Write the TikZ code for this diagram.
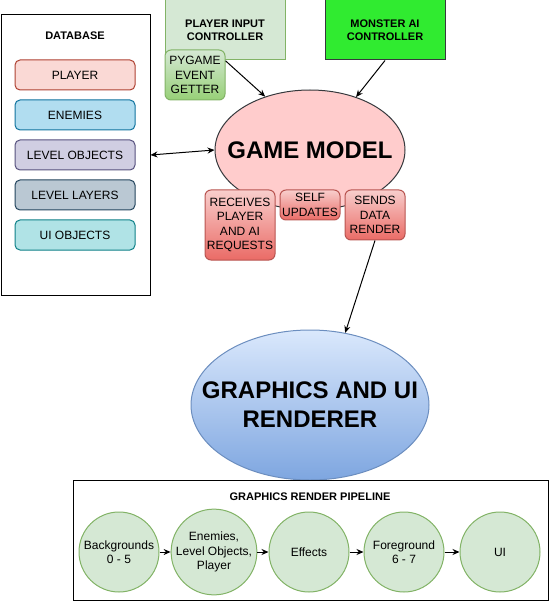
\documentclass[tikz,border=0pt]{standalone}
\usepackage{fontspec}
\setmainfont{Liberation Sans}
\usetikzlibrary{arrows.meta, positioning, shapes.geometric}
\definecolor{playerFill}{HTML}{FAD9D5}
\definecolor{playerLine}{HTML}{AE4132}
\definecolor{enemyFill}{HTML}{B1DDF0}
\definecolor{enemyLine}{HTML}{10739E}
\definecolor{objFill}{HTML}{D0CEE2}
\definecolor{objLine}{HTML}{56517E}
\definecolor{layerFill}{HTML}{BAC8D3}
\definecolor{layerLine}{HTML}{23445D}
\definecolor{uiFill}{HTML}{B0E3E6}
\definecolor{uiLine}{HTML}{0E8088}
\definecolor{greenFill}{HTML}{D5E8D4}
\definecolor{greenLine}{HTML}{82B366}
\definecolor{greenDark}{HTML}{97D077}
\definecolor{monsterFill}{HTML}{30EB30}
\definecolor{darkLine}{HTML}{36393D}
\definecolor{modelFill}{HTML}{FFCCCC}
\definecolor{redTop}{HTML}{F8CECC}
\definecolor{redBottom}{HTML}{EA6B66}
\definecolor{redLine}{HTML}{B85450}
\definecolor{blueTop}{HTML}{DAE8FC}
\definecolor{blueBottom}{HTML}{7EA6E0}
\definecolor{blueLine}{HTML}{6C8EBF}
\newcommand{\labelFont}{\fontsize{11}{13}\selectfont\bfseries}
\newcommand{\bigFont}{\fontsize{24}{29}\selectfont\bfseries}

\begin{document}
\begin{tikzpicture}[x=1pt, y=-1pt, line width=1pt,
    font=\fontsize{12}{14.4}\selectfont,
    dbitem/.style={draw, rounded corners=5, minimum width=120, minimum height=30},
    redbox/.style={draw=redLine, rounded corners=6, top color=redTop, bottom color=redBottom, align=center, inner sep=0},
    stage/.style={circle, draw=greenLine, fill=greenFill, minimum size=80, inner sep=0, align=center},
    arr/.style={-{Stealth[length=7pt, width=6pt]}}]
    \useasboundingbox (0,0) rectangle (549,601);

    % Database
    \node[draw, minimum width=149, minimum height=280, inner sep=0] (db) at (75.5,155) {};
    \node[font=\labelFont] (dbTitle) at (75,36) {DATABASE};
    \node[dbitem, fill=playerFill, draw=playerLine] (player) at (75,75) {PLAYER};
    \node[dbitem, fill=enemyFill, draw=enemyLine] (enemies) at (75,115) {ENEMIES};
    \node[dbitem, fill=objFill, draw=objLine] (levelObj) at (75,155) {LEVEL OBJECTS};
    \node[dbitem, fill=layerFill, draw=layerLine] (levelLayers) at (75,195) {LEVEL LAYERS};
    \node[dbitem, fill=uiFill, draw=uiLine] (uiObj) at (75,235) {UI OBJECTS};

    % Controllers
    \node[draw=greenLine, fill=greenFill, minimum width=120, minimum height=60, align=center, font=\labelFont] (inputCtrl) at (225,30) {PLAYER INPUT\\CONTROLLER};
    \node[draw=greenLine, rounded corners=6, top color=greenFill, bottom color=greenDark, minimum width=60, minimum height=50, inner sep=0, align=center] (pygame) at (195,75) {PYGAME\\EVENT\\GETTER};
    \node[draw=darkLine, fill=monsterFill, minimum width=120, minimum height=60, align=center, font=\labelFont] (monsterCtrl) at (385,30) {MONSTER AI\\CONTROLLER};

    % Game model
    \node[ellipse, draw=darkLine, fill=modelFill, minimum width=190, minimum height=120, inner sep=0] (model) at (310,150) {};
    \node[font=\bigFont] (modelText) at (model) {GAME MODEL};
    \node[redbox, minimum width=70, minimum height=70] (receives) at (240,225) {RECEIVES\\PLAYER\\AND AI\\REQUESTS};
    \node[redbox, minimum width=60, minimum height=30] (selfUpd) at (310,205) {SELF\\UPDATES};
    \node[redbox, minimum width=60, minimum height=50] (sends) at (375,215) {SENDS\\DATA\\RENDER};

    % Renderer
    \node[ellipse, draw=blueLine, top color=blueTop, bottom color=blueBottom, minimum width=238, minimum height=150, inner sep=0] (renderer) at (310,405) {};
    \node[align=center, font=\bigFont] (rendererText) at (renderer) {GRAPHICS AND UI\\RENDERER};

    % Connections
    \draw[arr] (pygame.25) -- (model.130);
    \draw[arr] (monsterCtrl.south) -- (model.49);
    \draw[{Stealth[length=7pt, width=6pt]}-{Stealth[length=7pt, width=6pt]}] (db.east) -- (model.west);
    \draw[arr] (sends.south) -- (renderer.64);

    % Render pipeline
    \node[draw, minimum width=475, minimum height=120, inner sep=0] (pipeline) at (310.5,540) {};
    \node[font=\labelFont] (pipeTitle) at (310,497) {GRAPHICS RENDER PIPELINE};
    \node[stage] (bgStage) at (119,552) {Backgrounds\\0 - 5};
    \node[stage] (enemyStage) at (214,552) {Enemies,\\Level Objects,\\Player};
    \node[stage] (fxStage) at (309,552) {Effects};
    \node[stage] (fgStage) at (404,552) {Foreground\\6 - 7};
    \node[stage] (uiStage) at (500,552) {UI};
    \foreach \a/\b in {bgStage/enemyStage, enemyStage/fxStage, fxStage/fgStage, fgStage/uiStage}
        \draw[arr] (\a) -- (\b);
\end{tikzpicture}
\end{document}
